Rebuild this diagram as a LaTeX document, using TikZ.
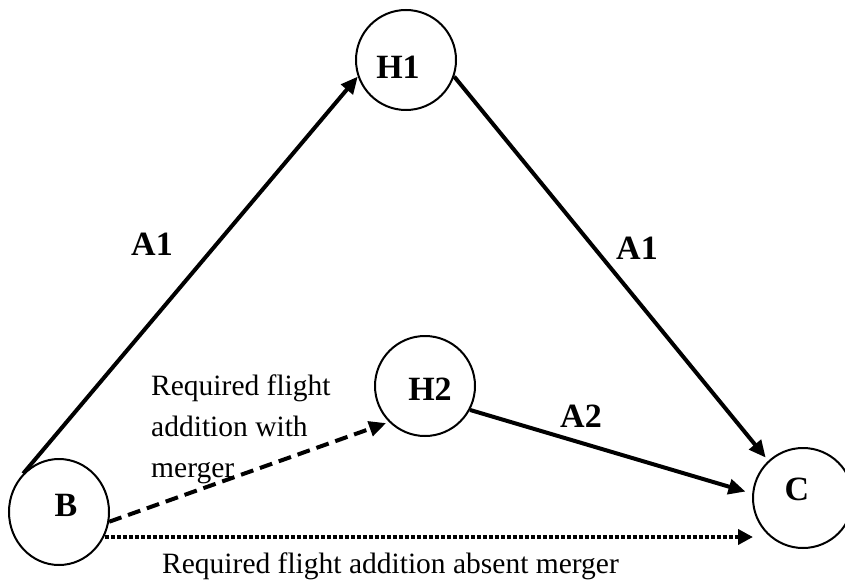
\documentclass[tikz,border=0pt]{standalone}
\usepackage{fontspec}
\setmainfont{Liberation Serif}
\usetikzlibrary{arrows.meta,shapes.geometric}
\begin{document}
\begin{tikzpicture}[x=1pt,y=-1pt,
  hub/.style={circle,draw,line width=2pt,minimum size=100pt,inner sep=0pt},
  hublabel/.style={font=\fontsize{34}{40}\selectfont\bfseries},
  edgelabel/.style={font=\fontsize{34}{40}\selectfont\bfseries,inner sep=0pt},
  note/.style={font=\fontsize{29.5}{41}\selectfont,inner sep=0pt},
  flow/.style={line width=4pt,-{Triangle[length=17pt,width=15pt]}},
  addmerge/.style={flow,dash pattern=on 13pt off 7pt},
  addabsent/.style={line width=4pt,dash pattern=on 4pt off 2pt,-{Triangle[length=15pt,width=15pt]}}]
\useasboundingbox (0,0) rectangle (845,580);
\node[hub,label={[hublabel,xshift=-8pt,yshift=-7pt]center:H1}] (H1) at (406,60) {};
\node[hub,label={[hublabel,xshift=5pt,yshift=-3pt]center:H2}] (H2) at (425,386) {};
\node[ellipse,draw,line width=2pt,minimum width=100pt,minimum height=106pt,inner sep=0pt,
      label={[hublabel,xshift=7pt,yshift=7pt]center:B}] (B) at (59,512) {};
\node[hub,label={[hublabel,xshift=-6pt,yshift=9pt]center:C}] (C) at (803,498) {};
\draw[flow] (B.133) -- (H1.199);
\draw[flow,shorten >=4pt] (H1.-19) -- (C.133);
\draw[flow,shorten >=7pt] (H2.-28) -- (C.175);
\draw[addmerge,shorten >=3pt] (B.-11) -- (H2.225);
\coordinate (dotend) at (753,537);
\draw[addabsent] (B.-27 |- dotend) -- (dotend);
\node[edgelabel] (a1l) at (152,244) {A1};
\node[edgelabel] (a1r) at (637,248) {A1};
\node[edgelabel] (a2) at (581,416) {A2};
\node[note,anchor=north west,align=left] (withm) at (151,375) {Required flight\\addition with\\merger};
\node[note,anchor=base west] (absm) at (162,573) {Required flight addition absent merger};
\end{tikzpicture}
\end{document}
